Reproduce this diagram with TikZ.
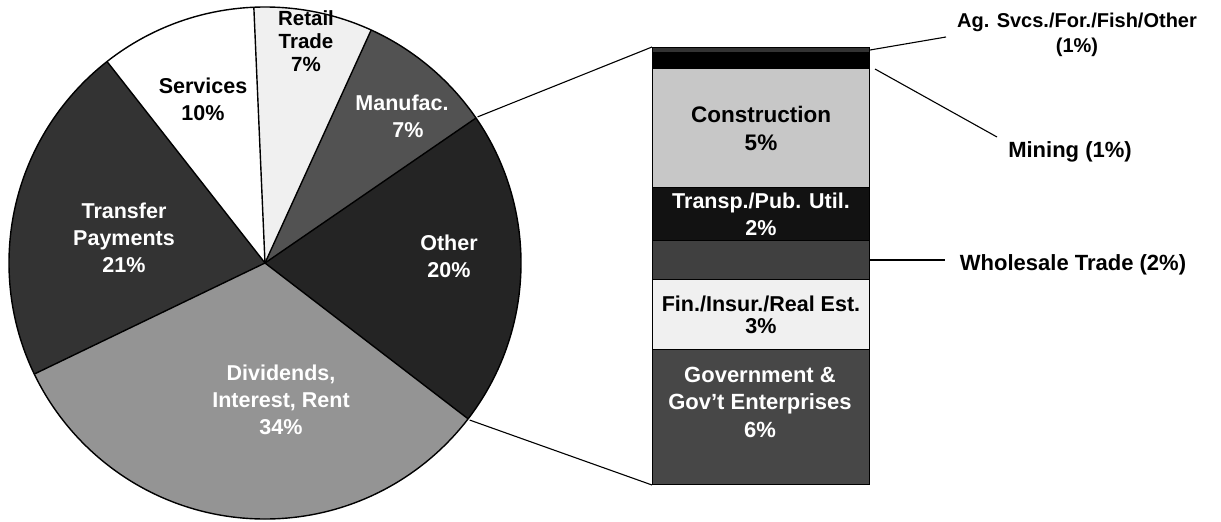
\documentclass[tikz,border=0pt]{standalone}
\usepackage{fontspec}
\setmainfont{Liberation Sans}
\begin{document}
\begin{tikzpicture}[x=1pt,y=-1pt,
  font=\bfseries\fontsize{21.5}{27}\selectfont,
  slice/.style={draw=black, line width=1.4pt, line join=round},
  plbl/.style={align=center, inner sep=0pt, text=white},
  seg/.style={draw=black, line width=1pt, minimum width=217pt, inner sep=0pt, anchor=north west, align=center},
  conn/.style={draw=black, line width=1.1pt},
  side/.style={align=center, inner sep=0pt, text=black}]
\useasboundingbox (0,0) rectangle (1221,522);
\coordinate (c) at (265,263);
% pie slices (angles negative because y points down)
\fill[black!6]  (c) -- ++(-92.5:256) arc[start angle=-92.5, end angle=-65.5, radius=256] -- cycle;
\fill[black!68] (c) -- ++(-65.5:256) arc[start angle=-65.5, end angle=-34.5, radius=256] -- cycle;
\fill[black!86] (c) -- ++(-34.5:256) arc[start angle=-34.5, end angle=37.5, radius=256] -- cycle;
\fill[black!42] (c) -- ++(37.5:256) arc[start angle=37.5, end angle=154.3, radius=256] -- cycle;
\fill[black!80] (c) -- ++(154.3:256) arc[start angle=154.3, end angle=231.9, radius=256] -- cycle;
\fill[white]    (c) -- ++(231.9:256) arc[start angle=231.9, end angle=267.5, radius=256] -- cycle;
\foreach \a in {-92.5,-65.5,-34.5,37.5,154.3,231.9} \draw[slice] (c) -- ++(\a:256);
\draw[slice] (c) circle[radius=256];
\path (c) ++(-34.5:258) coordinate (pu);
\path (c) ++(37.5:258) coordinate (pl);
% pie labels
\node[plbl, text=black, font=\bfseries\fontsize{20.5}{23}\selectfont] (retail) at (306,41) {Retail\\Trade\\7\%};
\node[plbl, text=black] (services) at (203,99) {Services\\10\%};
\node[plbl] (manufac) at (402,116) {Manufac.\\\hspace*{12pt}7\%};
\node[plbl] (other) at (449,256) {Other\\20\%};
\node[plbl] (transfer) at (124,238) {Transfer\\Payments\\21\%};
\node[plbl] (divid) at (281,400) {Dividends,\\Interest, Rent\\34\%};
% bar
\node[seg, fill=black!80, minimum height=5pt] (ag) at (652,47) {};
\node[seg, fill=black, minimum height=16pt] (mining) at (652,52) {};
\node[seg, fill=black!22, font=\bfseries\fontsize{22.5}{28}\selectfont, minimum height=119pt] (constr) at (652,68) {Construction\\5\%};
\node[seg, fill=black!93, text=white, minimum height=53pt] (transp) at (652,187) {Transp./Pub. Util.\\2\%};
\node[seg, fill=black!75, minimum height=39pt] (whole) at (652,240) {};
\node[seg, fill=black!6, minimum height=70pt, font=\bfseries\fontsize{21.5}{22}\selectfont] (fin) at (652,279) {Fin./Insur./Real Est.\\3\%};
\node[seg, fill=black!72, minimum height=135pt] (gov) at (652,349) {};
\node[plbl, font=\bfseries\fontsize{22}{27.5}\selectfont] (govlbl) at (760,402) {Government \&\\Gov't Enterprises\\6\%};
% connectors pie -> bar
\draw[conn] (pu) -- (ag.north west);
\draw[conn] (pl) -- (gov.south west);
% side labels
\node[side, font=\bfseries\fontsize{20}{25}\selectfont] (aglbl) at (1077,35) {Ag. Svcs./For./Fish/Other\\(1\%)};
\node[side, font=\bfseries\fontsize{22}{27}\selectfont] (minlbl) at (1070,152) {Mining (1\%)};
\node[side, font=\bfseries\fontsize{22}{27}\selectfont] (wholbl) at (1073,265) {Wholesale Trade (2\%)};
\coordinate (agend) at (946,37);
\coordinate (minend) at (997,137);
\coordinate (wholend) at (945,260);
\draw[conn] (ag.east) -- (agend);
\draw[conn] ([xshift=5pt]mining.south east) -- (minend);
\draw[conn] (whole.east) -- (wholend);
\end{tikzpicture}
\end{document}
